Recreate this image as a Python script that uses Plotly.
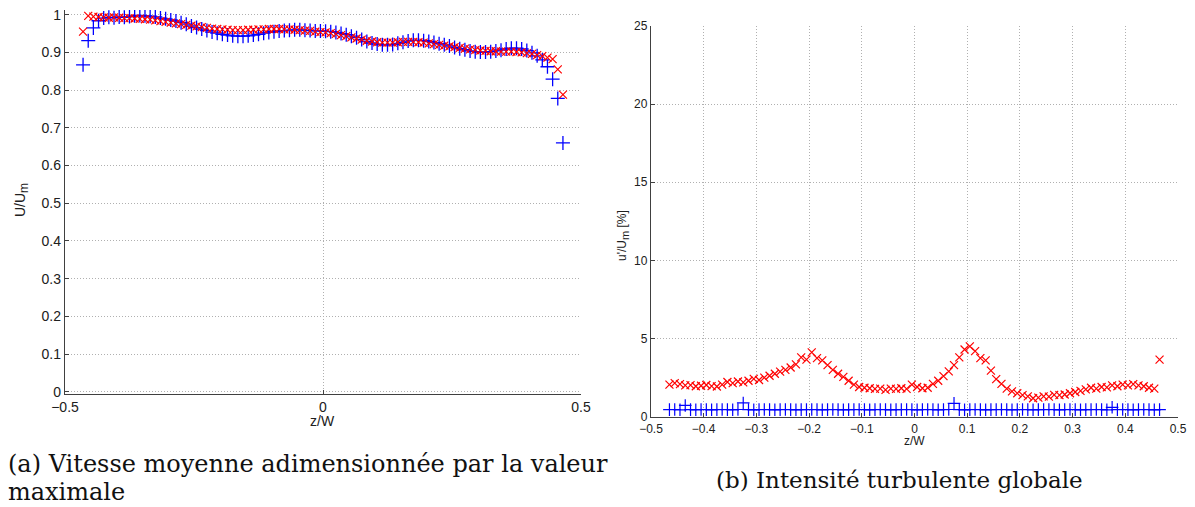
import plotly.graph_objects as go

# z/W positions (shared measurement grid)
z = [-0.465, -0.455, -0.445, -0.435, -0.425, -0.415, -0.405, -0.395, -0.385, -0.375,
     -0.365, -0.355, -0.345, -0.335, -0.325, -0.315, -0.305, -0.295, -0.285, -0.275,
     -0.265, -0.255, -0.245, -0.235, -0.225, -0.215, -0.205, -0.195, -0.185, -0.175,
     -0.165, -0.155, -0.145, -0.135, -0.125, -0.115, -0.105, -0.095, -0.085, -0.075,
     -0.065, -0.055, -0.045, -0.035, -0.025, -0.015, -0.005, 0.005, 0.015, 0.025,
     0.035, 0.045, 0.055, 0.065, 0.075, 0.085, 0.095, 0.105, 0.115, 0.125,
     0.135, 0.145, 0.155, 0.165, 0.175, 0.185, 0.195, 0.205, 0.215, 0.225,
     0.235, 0.245, 0.255, 0.265, 0.275, 0.285, 0.295, 0.305, 0.315, 0.325,
     0.335, 0.345, 0.355, 0.365, 0.375, 0.385, 0.395, 0.405, 0.415, 0.425,
     0.435, 0.445, 0.455, 0.465]

# (a) U/Um - blue "+" series
u_blue = [0.867, 0.931, 0.965, 0.984, 0.991, 0.993, 0.992, 0.994, 0.993, 0.995,
          0.997, 0.998, 0.997, 0.996, 0.994, 0.991, 0.989, 0.986, 0.983, 0.979,
          0.975, 0.970, 0.966, 0.962, 0.958, 0.954, 0.951, 0.948, 0.946, 0.944,
          0.943, 0.943, 0.944, 0.946, 0.948, 0.951, 0.953, 0.955, 0.957, 0.958,
          0.959, 0.960, 0.960, 0.959, 0.958, 0.957, 0.957, 0.956, 0.955, 0.953,
          0.950, 0.947, 0.943, 0.939, 0.934, 0.929, 0.925, 0.922, 0.920, 0.920,
          0.921, 0.924, 0.927, 0.930, 0.932, 0.932, 0.931, 0.929, 0.926, 0.923,
          0.920, 0.917, 0.913, 0.910, 0.907, 0.904, 0.902, 0.901, 0.901, 0.902,
          0.904, 0.906, 0.909, 0.911, 0.911, 0.909, 0.905, 0.899, 0.891, 0.880,
          0.862, 0.829, 0.778, 0.660]

# (a) U/Um - red "x" series
u_red = [0.955, 0.997, 0.995, 0.994, 0.993, 0.992, 0.993, 0.992, 0.991, 0.991,
         0.990, 0.989, 0.988, 0.987, 0.985, 0.983, 0.981, 0.979, 0.977, 0.975,
         0.973, 0.971, 0.969, 0.967, 0.965, 0.963, 0.962, 0.961, 0.960, 0.959,
         0.959, 0.959, 0.960, 0.960, 0.961, 0.961, 0.962, 0.962, 0.962, 0.961,
         0.961, 0.960, 0.959, 0.958, 0.957, 0.955, 0.954, 0.953, 0.951, 0.949,
         0.946, 0.943, 0.940, 0.937, 0.934, 0.931, 0.929, 0.927, 0.926, 0.926,
         0.926, 0.927, 0.928, 0.928, 0.928, 0.927, 0.926, 0.924, 0.922, 0.920,
         0.918, 0.916, 0.914, 0.912, 0.910, 0.908, 0.906, 0.905, 0.904, 0.903,
         0.903, 0.902, 0.902, 0.902, 0.901, 0.900, 0.898, 0.896, 0.893, 0.890,
         0.886, 0.882, 0.855, 0.788]

# (b) u'/Um [%] - blue "+" series
t_blue = [0.45, 0.46, 0.44, 0.72, 0.45, 0.44, 0.46, 0.45, 0.44, 0.45,
          0.46, 0.45, 0.44, 0.46, 0.88, 0.45, 0.44, 0.45, 0.46, 0.45,
          0.44, 0.45, 0.46, 0.45, 0.44, 0.45, 0.45, 0.46, 0.45, 0.44,
          0.45, 0.46, 0.45, 0.44, 0.45, 0.45, 0.46, 0.45, 0.44, 0.45,
          0.46, 0.45, 0.44, 0.45, 0.45, 0.46, 0.45, 0.44, 0.45, 0.46,
          0.45, 0.44, 0.45, 0.46, 0.85, 0.45, 0.44, 0.45, 0.46, 0.45,
          0.44, 0.45, 0.45, 0.46, 0.45, 0.44, 0.45, 0.46, 0.45, 0.44,
          0.45, 0.45, 0.46, 0.45, 0.44, 0.45, 0.46, 0.45, 0.44, 0.45,
          0.45, 0.46, 0.45, 0.44, 0.60, 0.45, 0.46, 0.45, 0.44, 0.45,
          0.46, 0.45, 0.44, 0.45]

# (b) u'/Um [%] - red "x" series
t_red = [2.05, 2.15, 2.08, 2.00, 2.02, 1.95, 1.98, 2.03, 1.96, 1.93,
         2.05, 2.22, 2.15, 2.25, 2.20, 2.30, 2.42, 2.35, 2.50, 2.62,
         2.75, 2.88, 3.00, 3.15, 3.35, 3.80, 3.65, 4.12, 3.75, 3.60,
         3.30, 3.00, 2.75, 2.55, 2.30, 2.05, 1.90, 1.85, 1.82, 1.78,
         1.80, 1.72, 1.80, 1.78, 1.82, 1.78, 2.05, 1.90, 1.82, 1.85,
         2.10, 2.30, 2.60, 2.90, 3.30, 3.80, 4.30, 4.50, 4.20, 3.75,
         3.60, 2.95, 2.40, 2.10, 1.80, 1.62, 1.50, 1.38, 1.30, 1.18,
         1.22, 1.30, 1.28, 1.40, 1.38, 1.42, 1.50, 1.58, 1.65, 1.75,
         1.85, 1.80, 1.90, 1.88, 2.00, 1.95, 2.05, 2.00, 2.08, 2.00,
         1.95, 1.85, 1.80, 3.65]

left_yticks = [0, 0.1, 0.2, 0.3, 0.4, 0.5, 0.6, 0.7, 0.8, 0.9, 1]
left_xticks = [-0.5, 0, 0.5]
left_xlabels = ["\u22120.5", "0", "0.5"]
right_xticks = [-0.5, -0.4, -0.3, -0.2, -0.1, 0, 0.1, 0.2, 0.3, 0.4, 0.5]
right_xlabels = ["\u22120.5", "\u22120.4", "\u22120.3", "\u22120.2", "\u22120.1", "0",
                 "0.1", "0.2", "0.3", "0.4", "0.5"]
right_yticks = [0, 5, 10, 15, 20, 25]

BLUE = "#0000ff"
RED = "#ff0000"
SANS = "Liberation Sans, Arial, sans-serif"
SERIF = "DejaVu Serif, serif"

fig = go.Figure()

plus = dict(symbol="cross-thin-open", size=10, line=dict(color=BLUE, width=1.3), color=BLUE)
cross = dict(symbol="x-thin-open", size=8, line=dict(color=RED, width=1.2), color=RED)
plus2 = dict(symbol="cross-thin-open", size=9, line=dict(color=BLUE, width=1.2), color=BLUE)

fig.add_trace(go.Scatter(x=z, y=u_blue, mode="markers", marker=plus, xaxis="x", yaxis="y",
                         showlegend=False, hoverinfo="x+y"))
fig.add_trace(go.Scatter(x=z, y=u_red, mode="markers", marker=cross, xaxis="x", yaxis="y",
                         showlegend=False, hoverinfo="x+y"))
fig.add_trace(go.Scatter(x=z, y=t_red, mode="markers", marker=cross, xaxis="x2", yaxis="y2",
                         showlegend=False, hoverinfo="x+y"))
fig.add_trace(go.Scatter(x=z, y=t_blue, mode="markers", marker=plus2, xaxis="x2", yaxis="y2",
                         showlegend=False, hoverinfo="x+y"))

# The page body adds an 8 px margin, so the figure is sized to fill the rest of the window.
OFF = 8
W, H = 1195 - OFF, 507 - OFF

def px_x(p):
    return (p - OFF) / W

def px_y(p):
    return 1 - (p - OFF) / H

axis_common = dict(showline=True, linecolor="#404040", linewidth=1.3, mirror=False,
                   ticks="inside", ticklen=4, tickcolor="#404040", tickwidth=1,
                   showgrid=True, gridcolor="#b0b0b0", griddash="1px,2px", gridwidth=1,
                   zeroline=False, automargin=False, ticklabeloverflow="allow")

fig.update_layout(
    width=W, height=H,
    margin=dict(l=0, r=0, t=0, b=0, pad=0),
    paper_bgcolor="white", plot_bgcolor="white",
    xaxis=dict(domain=[px_x(65), px_x(581)], range=[-0.5, 0.5], tickvals=left_xticks,
               ticktext=left_xlabels, anchor="y",
               tickfont=dict(family=SANS, size=14, color="#202020"), **axis_common),
    yaxis=dict(domain=[px_y(394.3), px_y(10)], range=[-0.0069, 1.0125], tickvals=left_yticks,
               ticktext=[str(v) for v in left_yticks], anchor="x",
               tickfont=dict(family=SANS, size=14, color="#202020"), **axis_common),
    xaxis2=dict(domain=[px_x(651), px_x(1178)], range=[-0.5, 0.5], tickvals=right_xticks,
                ticktext=right_xlabels, anchor="y2",
                tickfont=dict(family=SANS, size=12, color="#202020"), **axis_common),
    yaxis2=dict(domain=[px_y(417), px_y(26)], range=[-0.02, 25], tickvals=right_yticks,
                ticktext=[str(v) for v in right_yticks], anchor="x2",
                tickfont=dict(family=SANS, size=12, color="#202020"), **axis_common),
)

annotations = [
    dict(text="U/U<sub><span style='font-size:12px'>m</span></sub>", x=px_x(22), y=px_y(200),
         textangle=-90, font=dict(family=SANS, size=14, color="#202020")),
    dict(text="z/W", x=px_x(322), y=px_y(421),
         font=dict(family=SANS, size=14, color="#202020")),
    dict(text="u'/U<sub><span style='font-size:11px'>m</span></sub> [%]", x=px_x(623), y=px_y(235),
         textangle=-90, font=dict(family=SANS, size=12, color="#202020")),
    dict(text="z/W", x=px_x(914), y=px_y(441),
         font=dict(family=SANS, size=12, color="#202020")),
    dict(text="(a) Vitesse moyenne adimensionnée par la valeur",
         x=px_x(6), y=px_y(464), xanchor="left",
         font=dict(family=SERIF, size=24, color="#111111")),
    dict(text="maximale",
         x=px_x(6), y=px_y(492), xanchor="left",
         font=dict(family=SERIF, size=24, color="#111111")),
    dict(text="(b) Intensité turbulente globale", x=px_x(899), y=px_y(480),
         font=dict(family=SERIF, size=23, color="#111111")),
]
for a in annotations:
    a.setdefault("xref", "paper")
    a.setdefault("yref", "paper")
    a.setdefault("showarrow", False)
    a.setdefault("xanchor", "center")
    a.setdefault("yanchor", "middle")
fig.update_layout(annotations=annotations)

fig.write_html("out.html")
